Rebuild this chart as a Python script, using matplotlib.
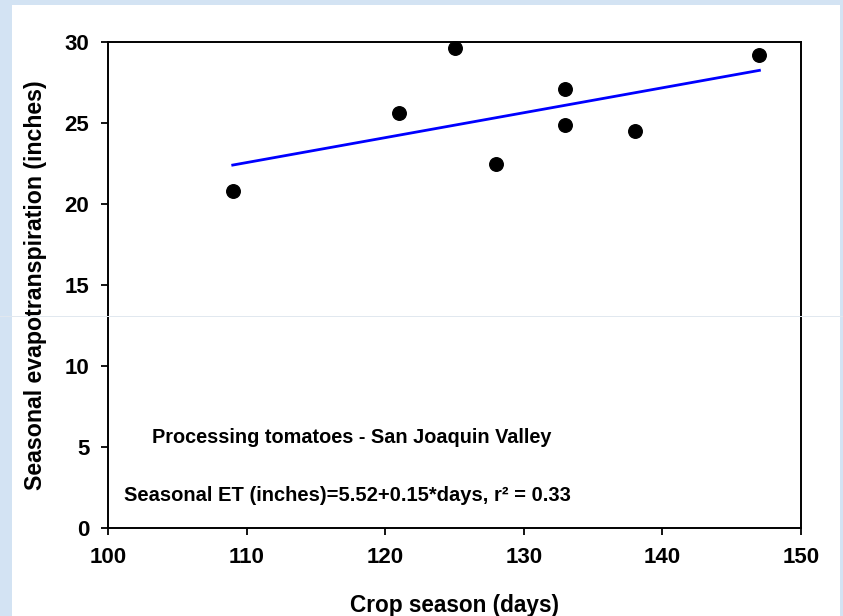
import matplotlib
matplotlib.use("Agg")
import matplotlib.pyplot as plt
import numpy as np
from matplotlib.patches import Rectangle
from matplotlib.lines import Line2D

# data
days = [109, 121, 125, 128, 133, 133, 138, 147]
et = [20.8, 25.6, 29.6, 22.5, 27.1, 24.85, 24.5, 29.2]
xticks = [100, 110, 120, 130, 140, 150]
yticks = [0, 5, 10, 15, 20, 25, 30]

plt.rcParams['font.family'] = ['Liberation Sans', 'DejaVu Sans']
plt.rcParams['font.weight'] = 'bold'

fig = plt.figure(figsize=(8.43, 6.16), dpi=100, facecolor='#d3e3f3')
# white slide panel
fig.patches.append(Rectangle((12/843, 0), 828/843, 611/616, transform=fig.transFigure,
                             facecolor='white', edgecolor='none', zorder=-10))
# faint guide line across the slide
fig.add_artist(Line2D([0, 1], [1-316/616, 1-316/616], transform=fig.transFigure,
                      color='#e1e8ef', lw=0.7, zorder=20))

ax = fig.add_axes([108/843, 1-528/616, 693/843, 486/616])
ax.set_zorder(5)
ax.set_facecolor('white')

ax.scatter(days, et, s=95, color='black', zorder=3, clip_on=False)

# regression line
slope, icpt = np.polyfit(days, et, 1)
xl = np.array([min(days), max(days)])
ax.plot(xl, icpt + slope*xl, color='#0000ff', lw=2.0, zorder=2)

ax.set_xlim(100, 150)
ax.set_ylim(0, 30)
ax.set_xticks(xticks)
ax.set_yticks(yticks)
ax.tick_params(direction='out', length=5, width=1.3, labelsize=16, pad=8.5,
               top=False, right=False)
for s in ax.spines.values():
    s.set_linewidth(1.4)

ax.set_xlabel('Crop season (days)', fontsize=16.3, fontweight='bold', labelpad=19)
ax.set_ylabel('Seasonal evapotranspiration (inches)', fontsize=16.7, fontweight='bold', labelpad=12.5)

ax.text(103.2, 5.6, 'Processing tomatoes - San Joaquin Valley', fontsize=14.3,
        fontweight='bold', va='center')
ax.text(101.15, 2.0, 'Seasonal ET (inches)=5.52+0.15*days, r² = 0.33', fontsize=14.5,
        fontweight='bold', va='center')

fig.savefig('out.png', dpi=100, facecolor=fig.get_facecolor())
